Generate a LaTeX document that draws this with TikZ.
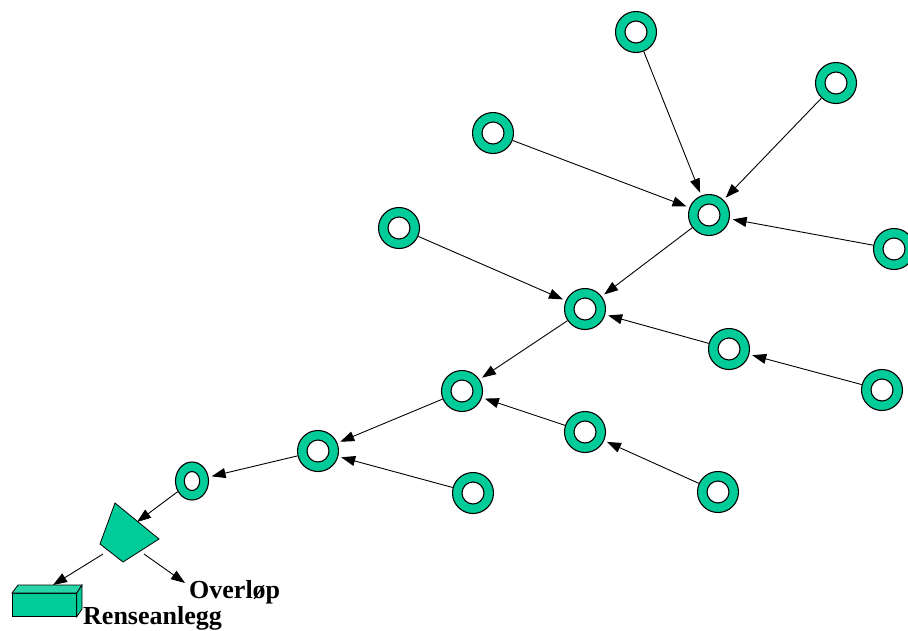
\documentclass[tikz,border=0pt]{standalone}
\usepackage{fontspec}
\setmainfont{Liberation Serif}
\usetikzlibrary{arrows.meta,shapes.geometric}
\definecolor{ringgreen}{RGB}{0,204,153}
\definecolor{ringtop}{RGB}{40,214,170}
\begin{document}
\begin{tikzpicture}[x=1pt,y=-1pt,
  ring/.style={circle,draw=black,fill=ringgreen,line width=1.1pt,minimum size=41pt,inner sep=0pt,
    path picture={\filldraw[fill=white,draw=black,line width=1.1pt] (path picture bounding box.center) circle (11pt);}},
  smallring/.style={ellipse,draw=black,fill=ringgreen,line width=1.1pt,minimum width=33pt,minimum height=38pt,inner sep=0pt,
    path picture={\filldraw[fill=white,draw=black,line width=1.1pt] (path picture bounding box.center) ellipse [x radius=7.7pt,y radius=9.5pt];}},
  flow/.style={-{Triangle[length=14pt,width=10pt]},line width=0.9pt,shorten >=3pt},
  lbl/.style={font=\fontsize{26}{26}\selectfont\bfseries,inner sep=0pt,anchor=base west}
]
\useasboundingbox (0,0) rectangle (908,630);
% rings
\node[ring] (A) at (636,32) {};
\node[ring] (B) at (836,83) {};
\node[ring] (C) at (493,133) {};
\node[ring] (D) at (709,215) {};
\node[ring] (E) at (894,249) {};
\node[ring] (F) at (399,228) {};
\node[ring] (G) at (585,309) {};
\node[ring] (H) at (729,349) {};
\node[ring] (I) at (882,390) {};
\node[ring] (J) at (462,391) {};
\node[ring] (K) at (585,432) {};
\node[ring] (L) at (318,451) {};
\node[ring] (M) at (473,493) {};
\node[ring] (N) at (718,492) {};
\node[smallring] (O) at (192,481) {};
% separator (trapezoid)
\filldraw[fill=ringgreen,draw=black,line width=0.8pt] (115,503) -- (159,539) -- (123,562) -- (100,544) -- cycle;
\coordinate (trapIn) at (137,522);
\coordinate (trapL) at (103,554);
\coordinate (trapR) at (144,554);
% treatment plant box
\node[draw=black,fill=ringgreen,line width=0.8pt,minimum width=64pt,minimum height=23pt,inner sep=0pt,anchor=north west] (box) at (12,593) {};
\filldraw[fill=ringtop,draw=black,line width=0.8pt] (box.north west) -- (18,585) -- (82,585) -- (box.north east) -- cycle;
\filldraw[fill=ringgreen,draw=black,line width=0.8pt] (box.north east) -- (82,585) -- (82,609) -- (box.south east) -- cycle;
\coordinate (boxTop) at (53,585);
% labels
\node[lbl] (ovl) at (189,598) {Overløp};
\node[lbl] (ren) at (83,624) {Renseanlegg};
\coordinate (ovlIn) at (185,583);
% connectors
\draw[flow] (A) -- (D);
\draw[flow] (B) -- (D);
\draw[flow] (C) -- (D);
\draw[flow] (E) -- (D);
\draw[flow] (D) -- (G);
\draw[flow] (F) -- (G);
\draw[flow] (H) -- (G);
\draw[flow] (I) -- (H);
\draw[flow] (G) -- (J);
\draw[flow] (K) -- (J);
\draw[flow] (N) -- (K);
\draw[flow] (J) -- (L);
\draw[flow] (M) -- (L);
\draw[flow] (L) -- (O);
\draw[flow,shorten >=0pt] (O) -- (trapIn);
\draw[flow,shorten >=0pt] (trapL) -- (boxTop);
\draw[flow,shorten >=0pt] (trapR) -- (ovlIn);
\end{tikzpicture}
\end{document}
